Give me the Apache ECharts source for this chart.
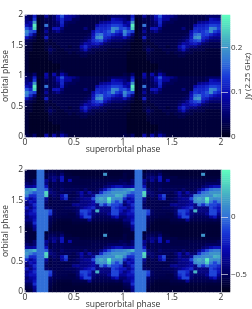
<!DOCTYPE html>
<html><head><meta charset="utf-8">
<script src="https://cdn.jsdelivr.net/npm/echarts@6/dist/echarts.min.js"></script>
<style>html,body{margin:0;padding:0;background:#fff}#c{width:252px;height:309px}canvas{filter:blur(0.4px)}</style>
</head><body><div id="c"></div>
<script>
// values: Jy x 100, one orbital row per line (top row = phase 1.0), 25 superorbital bins per unit
const tileTop = [
[5,4,11,2,2,8,3,5,10,15,9,8,7,5,3,3,3,3,3,3,3,4,5,5,5],
[6,4,13,1,2,4,3,5,9,12,8,8,4,4,3,3,3,3,3,3,3,4,10,9,8],
[7,9,20,1,2,3,3,4,6,12,5,4,4,3,3,3,3,3,3,7,8,9,11,11,11],
[10,8,26,1,2,17,3,4,5,11,4,3,3,3,3,3,3,3,9,11,11,12,14,14,13],
[15,12,24,1,2,5,3,10,10,6,3,3,3,3,3,6,3,3,12,12,12,13,19,18,14],
[19,15,14,1,2,8,3,5,7,4,3,3,3,3,3,3,3,9,13,12,13,15,19,14,12],
[17,12,6,1,2,4,3,3,3,3,3,3,3,3,3,3,4,10,16,17,13,14,12,10,9],
[10,6,3,1,2,11,3,3,3,3,3,3,3,3,3,4,5,11,19,20,12,11,8,7,7],
[4,3,2,1,1,4,2,3,3,3,3,3,3,3,4,5,8,12,14,15,10,7,5,5,5],
[3,2,1,1,1,2,2,2,3,3,3,3,3,3,5,9,8,10,11,9,5,4,3,3,3],
[2,2,1,1,1,2,3,2,2,3,3,2,3,3,9,12,8,6,6,4,3,3,3,3,3],
[2,2,1,1,1,2,5,3,2,2,3,3,3,3,6,10,5,3,3,3,3,2,2,2,2],
[2,1,1,1,1,1,3,2,2,2,2,3,2,3,3,4,3,3,2,2,2,2,2,2,2],
[2,1,1,1,1,1,2,2,2,2,2,2,2,2,3,3,2,2,2,2,2,2,2,2,2],
[2,1,1,1,1,1,2,2,2,2,2,2,2,2,2,2,2,2,2,2,2,2,2,2,2],
[2,1,1,1,1,1,1,2,2,2,2,2,2,2,2,2,2,2,2,2,2,2,2,2,2],
[2,1,1,1,1,1,1,1,1,2,2,2,2,2,2,2,2,2,2,2,2,2,2,2,2],
[2,1,1,1,1,1,1,1,1,2,2,2,2,2,2,2,2,2,2,2,2,2,2,2,2],
[2,1,1,1,1,1,1,1,2,3,2,2,2,2,2,2,2,2,2,2,2,2,2,2,2],
[3,2,5,1,1,9,2,9,3,9,5,2,2,2,2,2,2,2,2,2,2,2,2,2,2]
];
const tileBottom = [
[-56,-56,-56,0,0,-58,-54,-54,-54,-54,-58,-58,-58,-58,-58,-58,-58,-58,-58,-58,-58,-58,-58,-58,-58],
[-54,-56,-56,0,0,-52,-50,-50,-54,-45,-56,-56,-58,-58,-58,-58,-58,-58,-58,-58,12,-58,-58,-58,-58],
[-54,-56,-56,0,0,-54,-45,-40,-45,-25,-54,-54,-54,-54,-56,-56,-56,-56,-56,-56,-56,-56,-56,-56,-56],
[-52,-54,-45,0,0,-35,-48,-35,-50,-25,-54,-30,-54,-54,-54,-54,-54,-54,-54,-54,-54,-54,-54,-54,-50],
[-45,-50,-45,0,0,-40,-54,-50,-52,-50,-52,-52,-54,-54,-54,-54,-54,-52,-52,-52,-52,-48,-48,-48,-48],
[-35,-35,-30,0,0,-25,-54,-50,-52,-50,-52,-52,-52,-52,-52,-52,-52,-52,-52,-52,-45,-40,-30,-25,-25],
[8,14,20,0,0,-5,-45,-50,-52,-45,-50,-50,-50,-50,-52,-45,-52,-52,-50,-40,-25,-10,0,5,5],
[14,5,-5,0,0,30,-40,-45,-50,-50,-50,-50,-52,-45,-30,-48,-30,-45,-45,-18,0,5,12,12,12],
[5,-18,-18,0,0,26,-50,-45,-50,-30,-10,-52,-52,-50,-35,-45,-45,-35,3,5,8,10,8,20,18],
[-18,-35,-25,0,0,-35,-54,-50,-52,-35,-18,-52,-50,-45,-40,-35,-35,-10,12,18,12,36,12,8,10],
[-40,-25,-30,0,0,-45,-54,-52,-52,-52,-52,-52,-50,-50,-40,-40,-38,-30,8,12,10,28,3,-10,3],
[-45,-35,-18,0,0,-50,-54,-52,-52,-52,-52,-52,-38,-35,-40,-40,-35,-30,-40,0,-18,0,-10,-10,-18],
[-25,-40,-25,0,0,-45,-50,-52,-52,-52,-50,-50,-50,-45,-38,-30,-25,-18,-40,-40,-40,-40,-10,-18,-25],
[-40,-30,-18,0,0,0,-10,-48,-52,-52,-52,-52,-50,-45,-10,-10,-18,-40,20,-40,-40,-40,-10,-10,-25],
[-35,-25,-25,0,0,0,-14,-48,-52,-52,-52,-54,-54,-45,-18,-10,-25,-40,-45,-45,-45,-35,-10,-10,-35],
[-45,-35,-30,0,0,0,-45,-52,-52,-54,-54,-54,-54,-50,-30,-10,-10,-45,-50,-50,-50,-48,-35,-25,-45],
[-40,-40,-25,0,0,0,-50,-54,-56,-56,-56,-56,-54,-54,-52,-52,-35,-52,-52,-52,-52,-52,-52,-50,-52],
[-50,-48,-18,0,0,0,-52,-56,-58,-58,-58,-58,-56,-56,-56,-56,-56,-56,-56,-56,-56,-56,-56,-56,-56],
[-54,-52,-35,0,0,0,-54,-58,-58,-58,-58,-58,-58,-58,-58,-58,-58,-58,-58,-58,-58,-58,-58,-58,-58],
[-56,-56,-40,0,0,0,-56,-58,-58,-58,-58,-58,-58,-58,-58,-58,-58,-58,-58,-58,-58,-58,-58,-58,-58]
];
const xTicks = [0, 0.5, 1, 1.5, 2];
const yTicks = [0, 0.5, 1, 1.5, 2];
const cbTop = {min: 0, max: 27.2, ticks: [0, 0.1, 0.2], range: [0, 0.272], name: 'Jy (2.25 GHz)'};
const cbBottom = {min: -65, max: 40.5, ticks: [-0.5, 0], range: [-0.65, 0.405], name: ''};
const ramp = ['#000018','#00005c','#0808b0','#1a3ad8','#3272d8','#3f9ac8','#50d0c0','#60fcc0'];
const rampPos = [0,0.15,0.35,0.5,0.62,0.75,0.88,1];

const font = 'Open Sans';
const ink = '#333';
const panels = [
  {tile: tileTop, cb: cbTop, top: 15, height: 122},
  {tile: tileBottom, cb: cbBottom, top: 170, height: 122}
];
const grid = [], xAxis = [], yAxis = [], series = [], visualMap = [];
const range = n => Array.from({length: n}, (_, i) => i);
panels.forEach((p, k) => {
  const g = k * 2;
  const R = p.tile.length, C = p.tile[0].length;
  grid.push({left: 25, top: p.top, width: 196, height: p.height, outerBoundsMode: 'none'});
  grid.push({left: 221, top: p.top, width: 9, height: p.height, outerBoundsMode: 'none'});
  const base = xAxis.length, ybase = yAxis.length;
  xAxis.push({type: 'category', gridIndex: g, data: range(C * 2), show: false});
  yAxis.push({type: 'category', gridIndex: g, data: range(R * 2), show: false});
  xAxis.push({type: 'value', gridIndex: g, min: 0, max: 2, position: 'bottom', z: 5,
    name: 'superorbital phase', nameLocation: 'middle', nameGap: 8, nameMoveOverlap: false,
    nameTextStyle: {fontFamily: font, fontSize: 8.5, color: ink},
    axisLine: {show: false}, splitLine: {show: false},
    axisTick: {inside: true, length: 2, customValues: xTicks, lineStyle: {color: '#ccd', width: 0.6}},
    axisLabel: {margin: 1, customValues: xTicks, fontFamily: font, fontSize: 8.5, color: ink, hideOverlap: false, formatter: v => String(v)}});
  yAxis.push({type: 'value', gridIndex: g, min: 0, max: 2, position: 'left', z: 5,
    name: 'orbital phase', nameLocation: 'middle', nameGap: 15, nameRotate: 90, nameMoveOverlap: false,
    nameTextStyle: {fontFamily: font, fontSize: 8.5, color: ink},
    axisLine: {show: false}, splitLine: {show: false},
    axisTick: {inside: true, length: 2, customValues: yTicks, lineStyle: {color: '#ccd', width: 0.6}},
    axisLabel: {margin: 2, customValues: yTicks, fontFamily: font, fontSize: 8.5, color: ink, formatter: v => String(v)}});
  const data = [];
  for (let rep = 0; rep < 2; rep++) for (let rr = 0; rr < R; rr++) {
    const row = p.tile[rr];
    const yi = rep * R + (R - 1 - rr);
    for (let cp = 0; cp < 2; cp++) row.forEach((v, c) => data.push([cp * C + c, yi, v]));
  }
  series.push({type: 'heatmap', xAxisIndex: base, yAxisIndex: ybase, data, progressive: 0, silent: true,
    itemStyle: {borderWidth: 0}, emphasis: {disabled: true}});
  const n = 64, levels = range(n).map(i => p.cb.min + (i + 0.5) * (p.cb.max - p.cb.min) / n);
  const xb = xAxis.length, yb = yAxis.length;
  xAxis.push({type: 'category', gridIndex: g + 1, data: [0], show: false});
  yAxis.push({type: 'category', gridIndex: g + 1, data: range(n), show: false});
  yAxis.push({type: 'value', gridIndex: g + 1, min: p.cb.range[0], max: p.cb.range[1], position: 'right', z: 5,
    name: p.cb.name, nameLocation: 'middle', nameGap: 14, nameRotate: 90, nameMoveOverlap: false,
    nameTextStyle: {fontFamily: font, fontSize: 8, color: ink},
    axisLine: {show: false}, splitLine: {show: false},
    axisTick: {show: false},
    axisLabel: {show: true, customValues: p.cb.ticks, margin: 1, fontFamily: font, fontSize: 8, color: ink,
      formatter: v => String(v).replace('-', '\u2212')}});
  yAxis.push({type: 'value', gridIndex: g + 1, min: p.cb.range[0], max: p.cb.range[1], position: 'left', z: 6,
    axisLine: {show: true, onZero: false, lineStyle: {color: '#aab', width: 0.7}}, splitLine: {show: false}, axisLabel: {show: false},
    axisTick: {show: true, inside: true, length: 7, customValues: p.cb.ticks, lineStyle: {color: '#dde', width: 0.7}}});
  const si = series.length - 1;
  series.push({type: 'heatmap', xAxisIndex: xb, yAxisIndex: yb, data: levels.map((v, i) => [0, i, v]),
    progressive: 0, silent: true, emphasis: {disabled: true}});
  visualMap.push({show: false, type: 'piecewise', seriesIndex: [si, si + 1], dimension: 2,
    pieces: range(128).map(i => {
      const f0 = i / 128, f1 = (i + 1) / 128, fm = (i + 0.5) / 128;
      let j = 0; while (j < rampPos.length - 2 && fm > rampPos[j + 1]) j++;
      const t = (fm - rampPos[j]) / (rampPos[j + 1] - rampPos[j]);
      const a = echarts.color.parse(ramp[j]), b = echarts.color.parse(ramp[j + 1]);
      const col = `rgb(${[0,1,2].map(q => Math.round(a[q] + (b[q] - a[q]) * t)).join(',')})`;
      const span = p.cb.max - p.cb.min;
      const piece = {color: col};
      piece.gte = i === 0 ? -1e6 : p.cb.min + f0 * span;
      piece.lt = i === 127 ? 1e6 : p.cb.min + f1 * span;
      return piece;
    })});
});
const chart = echarts.init(document.getElementById('c'), null, {renderer: 'canvas', width: 252, height: 309});
chart.setOption({animation: false, backgroundColor: '#fff', grid, xAxis, yAxis, series, visualMap});
</script></body></html>
